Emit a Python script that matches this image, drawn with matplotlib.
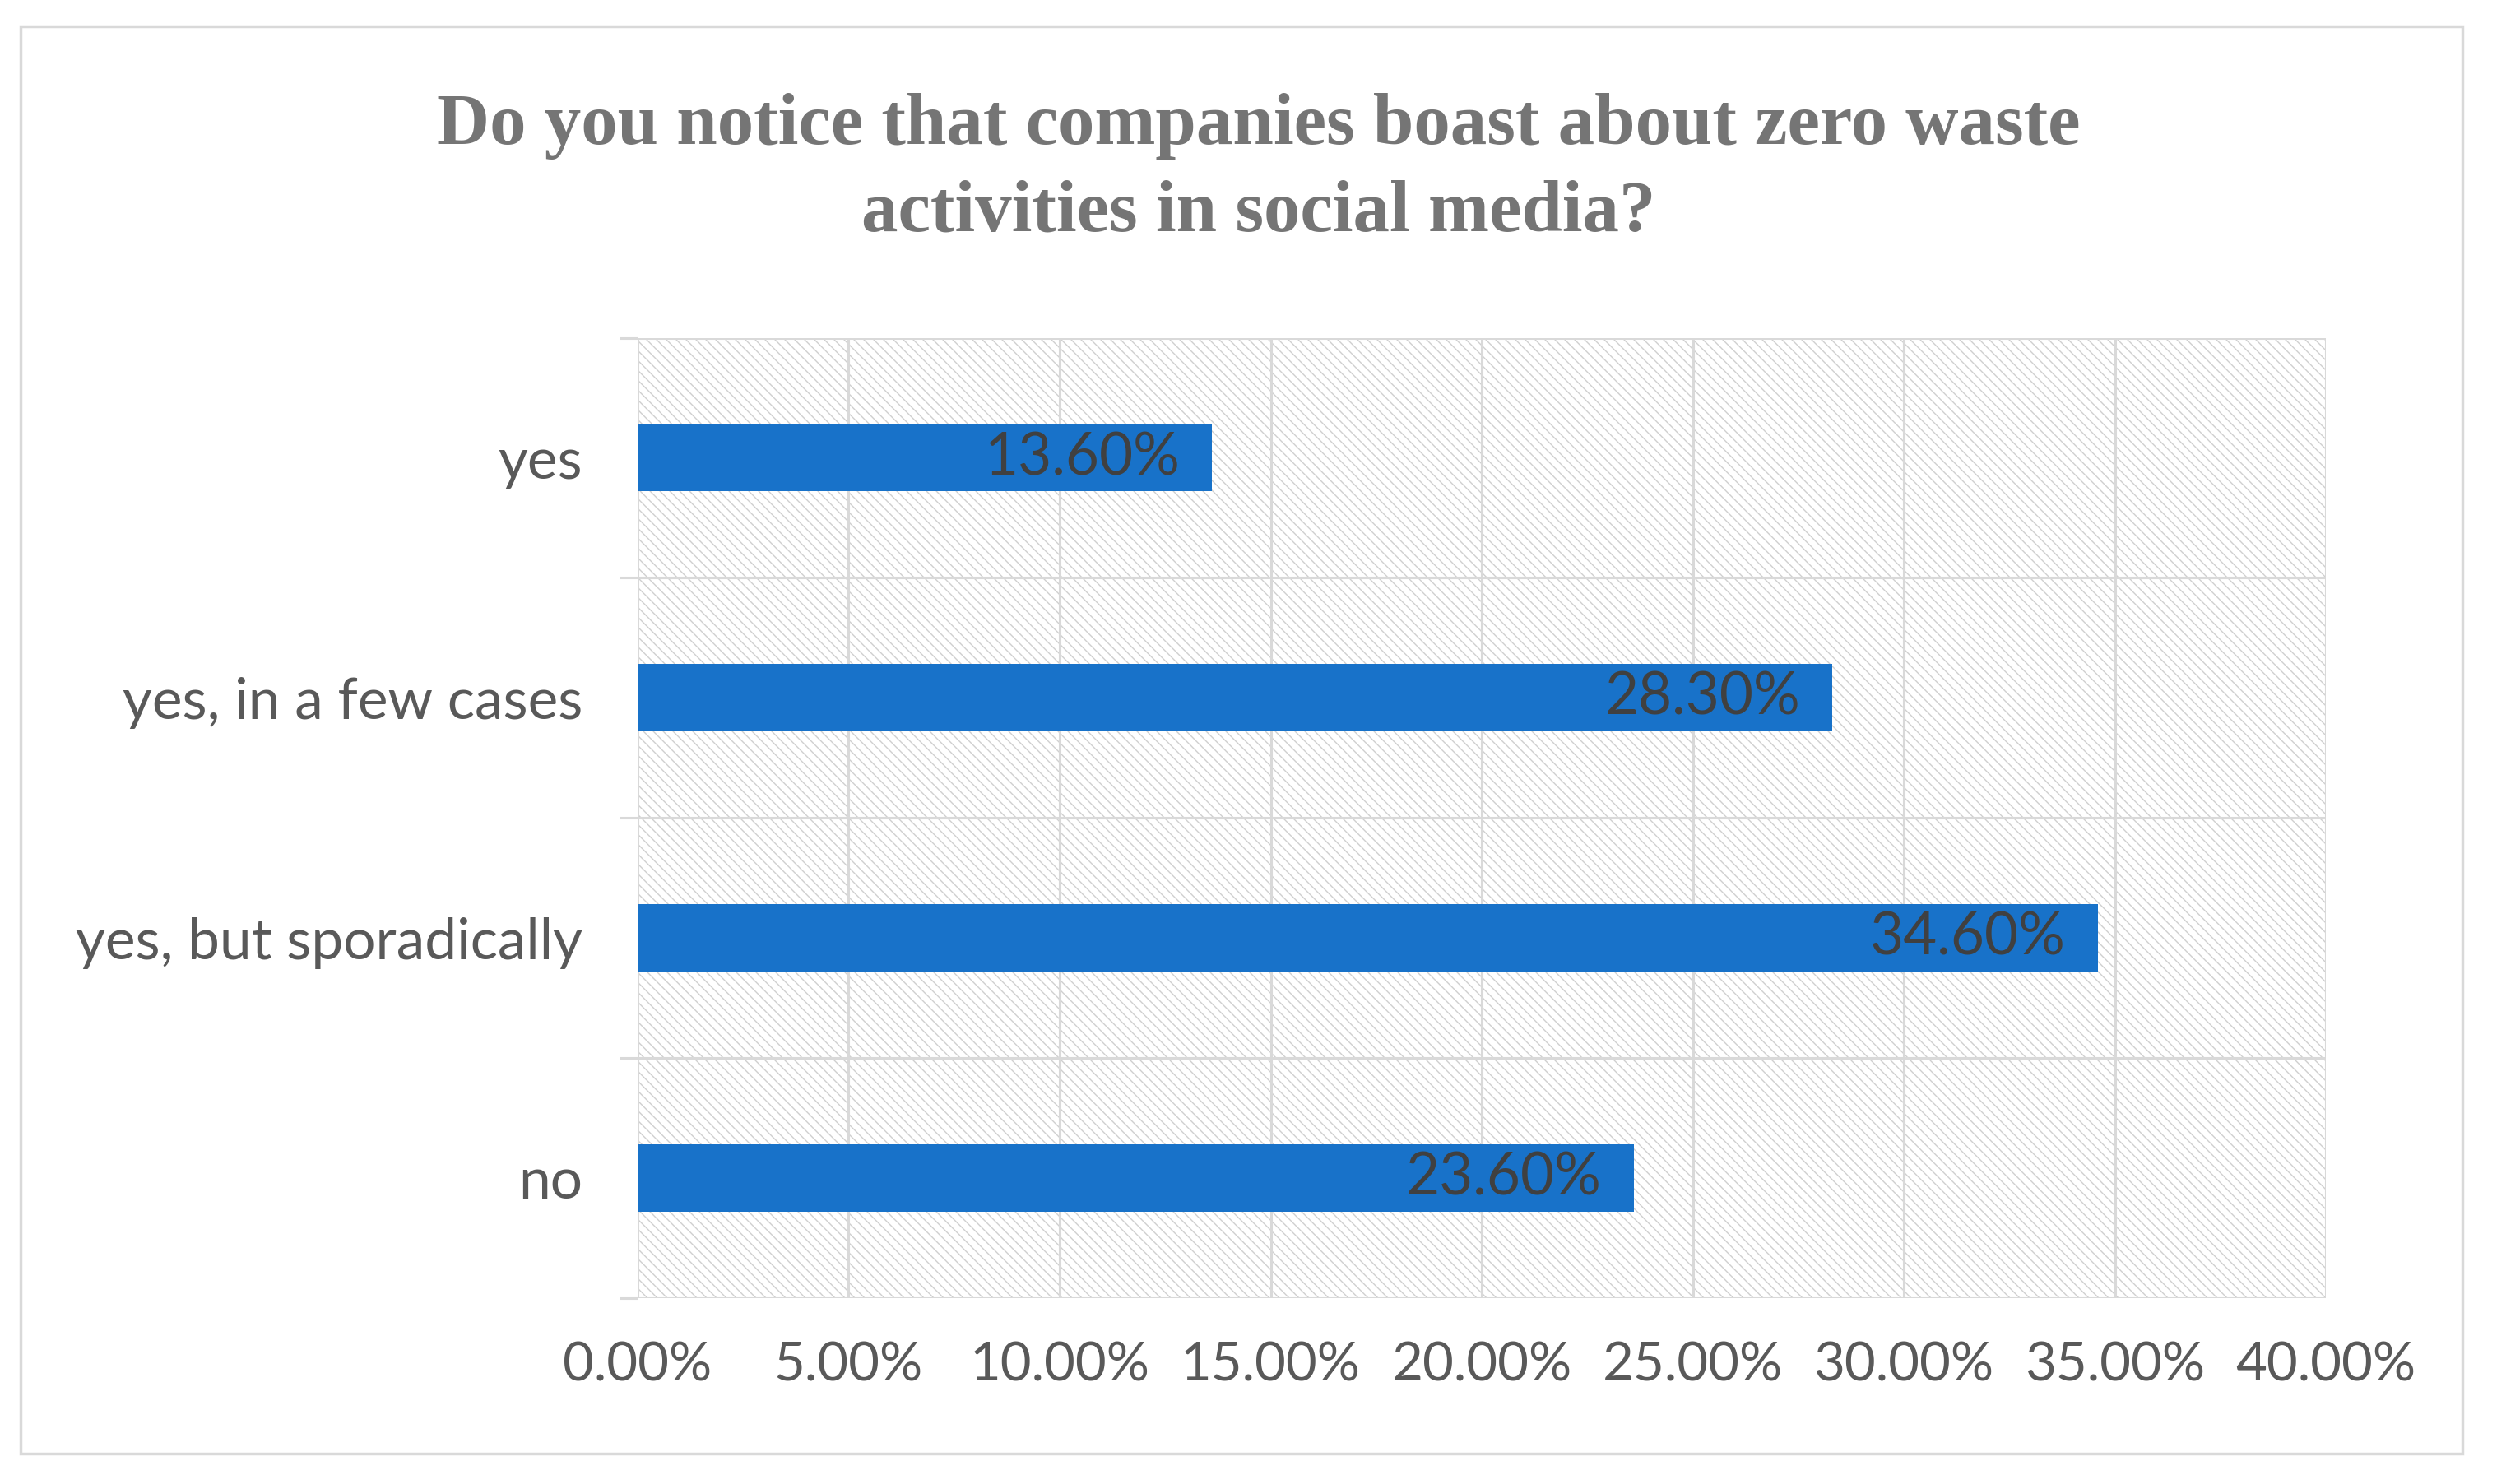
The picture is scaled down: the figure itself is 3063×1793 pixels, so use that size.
import matplotlib.pyplot as plt
import numpy as np
from matplotlib.patches import Rectangle
from matplotlib.collections import LineCollection

# data
categories = ['yes', 'yes, in a few cases', 'yes, but sporadically', 'no']
values = [13.6, 28.3, 34.6, 23.6]
xticks = [0, 5, 10, 15, 20, 25, 30, 35, 40]
title = 'Do you notice that companies boast about zero waste\nactivities in social media?'

plt.rcParams['font.family'] = ['Lato', 'DejaVu Sans']

W, H = 3063, 1793
fig = plt.figure(figsize=(W / 100, H / 100), dpi=100)
ax_rect = [0.253, 0.120, 0.670, 0.651]
ax = fig.add_axes(ax_rect)

# diagonal pattern fill of the plot area (\\ direction, ~12 px apart)
aw, ah = ax_rect[2] * W, ax_rect[3] * H
step = 12 / aw
slope = ah / aw
starts = np.arange(-slope, 1 + step, step)
segs = [[(u, 1), (u + slope, 0)] for u in starts]
lc = LineCollection(segs, transform=ax.transAxes, colors='#cfcfcf', linewidths=1.0, zorder=0)
ax.add_collection(lc, autolim=False)
lc.set_clip_path(Rectangle((0, 0), 1, 1, transform=ax.transAxes))

y = np.arange(len(categories))
ax.barh(y, values, height=0.28, color='#1872c9', zorder=3)
for yi, v in zip(y, values):
    ax.annotate('%.2f%%' % v, (v, yi), xytext=(-28, 0), textcoords='offset points',
                ha='right', va='center', fontsize=51, color='#404040', zorder=4)

ax.set_xlim(0, 40)
ax.set_ylim(len(categories) - 0.5, -0.5)
ax.set_xticks(xticks)
ax.set_xticklabels(['%.2f%%' % t for t in xticks])
ax.set_yticks(y)
ax.set_yticklabels(categories)
ax.set_yticks(np.arange(len(categories) + 1) - 0.5, minor=True)

ax.tick_params(axis='x', length=0, pad=38, labelsize=47, labelcolor='#595959')
ax.tick_params(axis='y', which='major', length=0, pad=48, labelsize=50, labelcolor='#595959')
ax.tick_params(axis='y', which='minor', length=16, width=2.2, color='#d9d9d9')

ax.grid(axis='x', which='major', color='#d9d9d9', lw=2.2, zorder=1)
ax.grid(axis='y', which='minor', color='#d9d9d9', lw=2.2, zorder=1)
ax.set_axisbelow(True)
for s in ax.spines.values():
    s.set_visible(False)

fig.text(0.4995, 0.885, title, ha='center', va='center', fontsize=64,
         fontweight='bold', family='Liberation Serif', color='#757575', linespacing=1.4)

# outer chart border
fig.patches.append(Rectangle((0.0082, 0.0145), 0.969, 0.9677, transform=fig.transFigure,
                             fill=False, edgecolor='#d9d9d9', lw=2.5))

fig.savefig('out.png', dpi=100)
